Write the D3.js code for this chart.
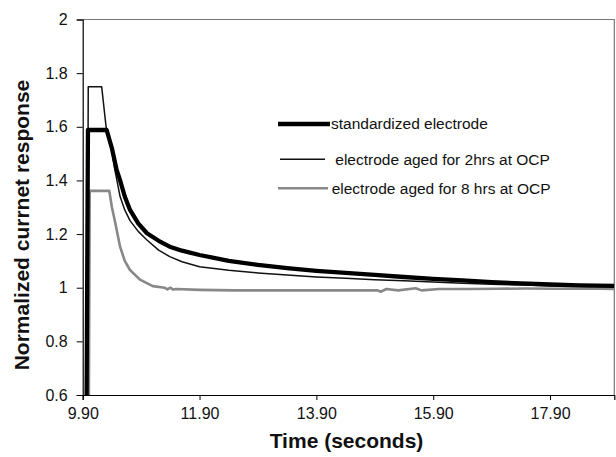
<!DOCTYPE html>
<html><head><meta charset="utf-8">
<script src="https://cdn.jsdelivr.net/npm/d3@7"></script>
<style>body{margin:0;background:#fff}svg{display:block}text{font-family:"Liberation Sans",Arial,Helvetica,sans-serif}</style>
</head><body><svg id="c" width="616" height="457"></svg>
<script>
// ---- data ----
const stdTime = [9.96, 9.99, 10.31, 10.40, 10.48, 10.54, 10.62, 10.71, 10.85, 11.0, 11.2, 11.39, 11.6, 11.9, 12.4, 12.9, 13.4, 13.9, 14.4, 14.9, 15.4, 15.9, 16.4, 16.9, 17.4, 17.9, 18.4, 19.0];
const stdValue = [0.3, 1.588, 1.588, 1.52, 1.44, 1.40, 1.34, 1.29, 1.24, 1.203, 1.175, 1.153, 1.138, 1.122, 1.10, 1.085, 1.073, 1.063, 1.055, 1.048, 1.04, 1.033, 1.027, 1.021, 1.016, 1.012, 1.009, 1.007];

const aged2Time = [9.97, 9.995, 10.225, 10.30, 10.37, 10.45, 10.54, 10.62, 10.71, 10.85, 11.0, 11.2, 11.39, 11.6, 11.9, 12.4, 12.9, 13.4, 13.9, 14.4, 14.9, 15.4, 15.9, 16.4, 16.9, 17.4, 17.9, 18.4, 19.0];
const aged2Value = [0.3, 1.749, 1.749, 1.60, 1.55, 1.44, 1.34, 1.29, 1.25, 1.21, 1.178, 1.14, 1.116, 1.097, 1.078, 1.065, 1.055, 1.047, 1.04, 1.035, 1.03, 1.026, 1.021, 1.017, 1.013, 1.01, 1.007, 1.005, 1.004];

const aged8Time = [10.0, 10.02, 10.355, 10.40, 10.45, 10.54, 10.62, 10.71, 10.88, 11.1, 11.3, 11.35, 11.4, 11.45, 11.5, 11.9, 12.5, 13.5, 14.5, 14.95, 15.0, 15.1, 15.3, 15.6, 15.7, 16.0, 16.5, 17.0, 17.5, 18.0, 18.5, 19.0];
const aged8Value = [0.3, 1.361, 1.361, 1.30, 1.25, 1.153, 1.10, 1.066, 1.03, 1.006, 1.0, 0.994, 1.0, 0.993, 0.995, 0.992, 0.99, 0.99, 0.99, 0.99, 0.985, 0.995, 0.99, 0.998, 0.99, 0.995, 0.995, 0.996, 0.997, 0.996, 0.997, 0.995];

const xTicks = [9.9, 11.9, 13.9, 15.9, 17.9];
const yTicks = [0.6, 0.8, 1, 1.2, 1.4, 1.6, 1.8, 2];
const seriesNames = ["standardized electrode", " electrode aged for 2hrs at OCP", "electrode aged for 8 hrs at OCP"];

// ---- chart ----
const svg = d3.select("#c");
const L = 82.7, R = 614.3, T = 19.5, B = 395;
const x = d3.scaleLinear().domain([9.9, 19.0]).range([L, R]);
const y = d3.scaleLinear().domain([0.6, 2]).range([B, T]);

svg.append("defs").append("clipPath").attr("id", "clip")
  .append("rect").attr("x", L).attr("y", T).attr("width", R - L).attr("height", B - T);

// plot border (top & right)
svg.append("path").attr("d", `M${L},${T}H${R}V${B}`).attr("fill", "none").attr("stroke", "#777").attr("stroke-width", 1.2);

const series = [
  {t: stdTime, v: stdValue, color: "#000", w: 4.3},
  {t: aged2Time, v: aged2Value, color: "#111", w: 1.5},
  {t: aged8Time, v: aged8Value, color: "#888", w: 2.6}
];
const line = d3.line().x(d => x(d[0])).y(d => y(d[1]));
const g = svg.append("g").attr("clip-path", "url(#clip)");
[series[2], series[1], series[0]].forEach(s => {
  g.append("path").datum(s.t.map((t, i) => [t, s.v[i]]))
    .attr("d", line).attr("fill", "none").attr("stroke", s.color)
    .attr("stroke-width", s.w).attr("stroke-linejoin", "round");
});

// axes
const yAxis = d3.axisLeft(y).tickValues(yTicks).tickFormat(d => String(d)).tickSize(6).tickPadding(9);
const ya = svg.append("g").attr("transform", `translate(${L},0)`).call(yAxis);
const xAxis = d3.axisBottom(x).tickValues(xTicks).tickFormat(d3.format(".2f")).tickSize(5).tickPadding(8);
const xa = svg.append("g").attr("transform", `translate(0,${B})`).call(xAxis);
[ya, xa].forEach(a => {
  a.select(".domain").attr("stroke", "#000").attr("stroke-width", 1.2);
  a.selectAll(".tick line").attr("stroke", "#000");
  a.selectAll("text").attr("font-size", 16).attr("fill", "#111").style("font-family", "'Liberation Sans',Arial,sans-serif");
});

// axis titles
svg.append("text").attr("x", (L + R) / 2 - 2).attr("y", 448).attr("text-anchor", "middle")
  .attr("font-size", 21).attr("font-weight", "bold").attr("fill", "#111").text("Time (seconds)");
svg.append("text").attr("transform", "translate(29,225) rotate(-90)").attr("text-anchor", "middle")
  .attr("font-size", 21).attr("font-weight", "bold").attr("fill", "#111").text("Normalized currnet response");

// legend
const leg = [
  {y: 124, x1: 278, x2: 330, tx: 331, c: "#000", w: 4.3},
  {y: 159.3, x1: 280, x2: 325, tx: 331, c: "#111", w: 1.5},
  {y: 188.3, x1: 278, x2: 328, tx: 331.7, c: "#888", w: 2.6}
];
leg.forEach((l, i) => {
  svg.append("line").attr("x1", l.x1).attr("x2", l.x2).attr("y1", l.y).attr("y2", l.y)
    .attr("stroke", l.c).attr("stroke-width", l.w);
  svg.append("text").attr("x", l.tx).attr("y", l.y).attr("dy", "0.35em").attr("font-size", 15.5)
    .attr("fill", "#111").attr("xml:space", "preserve").style("white-space", "pre").text(seriesNames[i]);
});
</script></body></html>
